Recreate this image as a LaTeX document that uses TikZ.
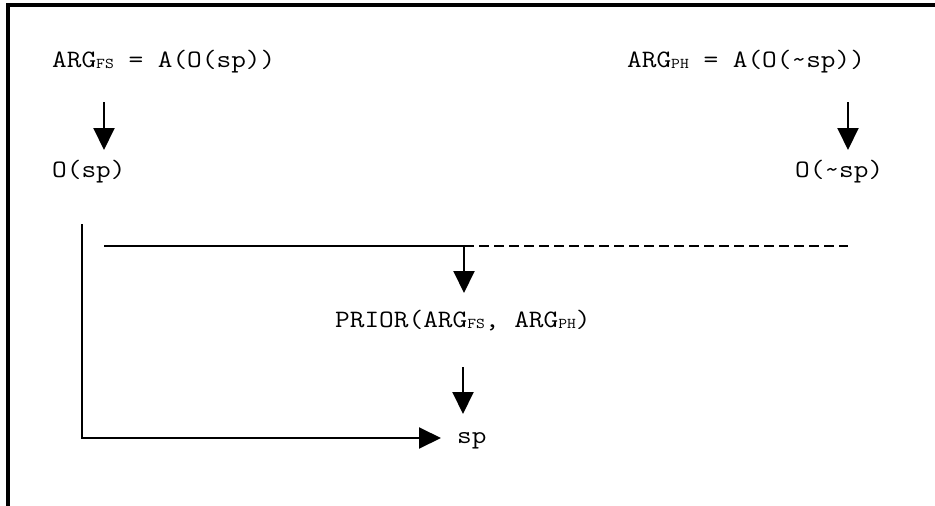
\documentclass[tikz,border=0pt]{standalone}
\usepackage{fontspec}
\newfontfamily\cour[FakeStretch=1.14]{Latin Modern Mono}
\usetikzlibrary{arrows.meta}
\newcommand\subtxt[1]{\raisebox{-1.5pt}{\fontsize{15}{15}\selectfont #1}}
\begin{document}
\begin{tikzpicture}[x=1pt,y=-1pt,
  txt/.style={inner sep=0pt,anchor=base west,font=\cour\fontsize{25}{30}\selectfont},
  conn/.style={line width=2pt},
  arr/.style={conn,-{Triangle[length=22pt,width=21pt]}},
  dashconn/.style={conn,dash pattern=on 10pt off 5pt}]
\useasboundingbox (0,0) rectangle (935,506);
% frame
\coordinate (fb) at (8,506);
\coordinate (fc) at (8,5);
\coordinate (fr) at (935,5);
\draw[line width=4pt] (fb) -- (fc) -- (fr);
% texts
\node[txt] (fs) at (52,67) {ARG\subtxt{FS} = A(O(sp))};
\node[txt] (ph) at (627,67) {ARG\subtxt{PH} = A(O(\textasciitilde sp))};
\node[txt] (osp) at (52,177) {O(sp)};
\node[txt] (onsp) at (795,177) {O(\textasciitilde sp)};
\node[txt] (prior) at (335,327) {PRIOR(ARG\subtxt{FS}, ARG\subtxt{PH})};
\node[txt] (sp) at (457,443) {sp};
% coordinates
\coordinate (a1s) at (104,102);
\coordinate (a1e) at (104,150);
\coordinate (a2s) at (848,102);
\coordinate (a2e) at (848,150);
\coordinate (hL) at (104,246);
\coordinate (hM) at (464,246);
\coordinate (hR) at (848,246);
\coordinate (a3e) at (464,293);
\coordinate (a4s) at (463,367);
\coordinate (a4e) at (463,414);
\coordinate (vT) at (82,224);
\coordinate (vB) at (82,438);
\coordinate (spT) at (441,438);
% connectors
\draw[arr] (a1s) -- (a1e);
\draw[arr] (a2s) -- (a2e);
\draw[conn] (hL) -- (hM);
\draw[dashconn] (hM) -- (hR);
\draw[arr] (hM) -- (a3e);
\draw[arr] (a4s) -- (a4e);
\draw[arr] (vT) -- (vB) -- (spT);
\end{tikzpicture}
\end{document}
